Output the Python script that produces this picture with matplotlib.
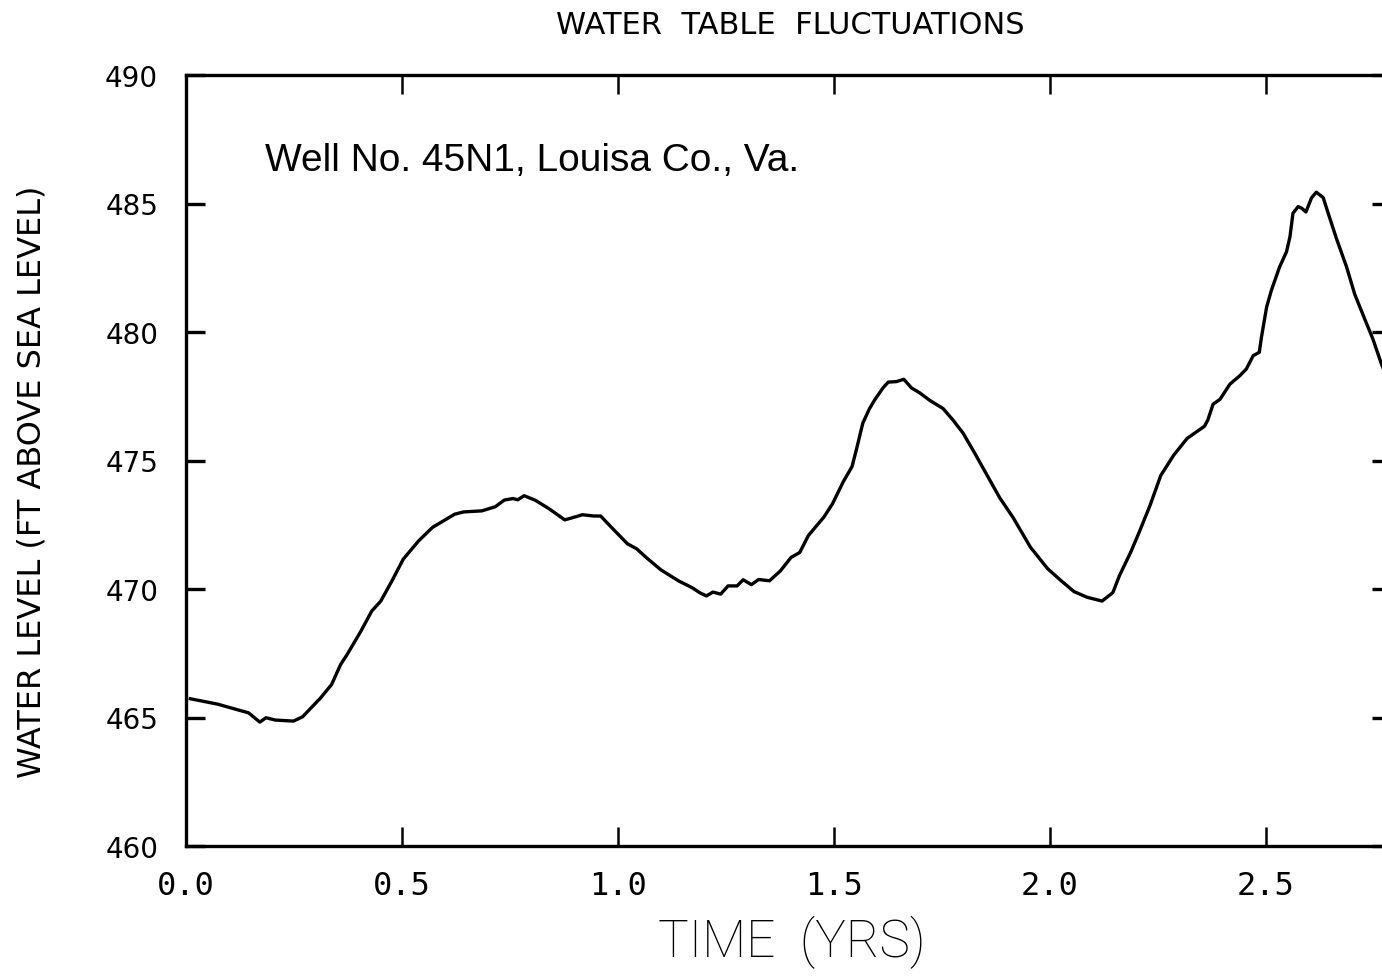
import matplotlib.pyplot as plt

# Hydrograph for well 45N1, Louisa County, Virginia
years = [0.010, 0.073, 0.145, 0.171, 0.185, 0.207, 0.249, 0.270, 0.311, 0.337,
         0.358, 0.373, 0.405, 0.430, 0.451, 0.477, 0.503, 0.539, 0.571, 0.622,
         0.643, 0.685, 0.716, 0.737, 0.757, 0.768, 0.783, 0.809, 0.840, 0.877,
         0.892, 0.918, 0.944, 0.960, 0.985, 1.022, 1.043, 1.068, 1.100, 1.141,
         1.172, 1.190, 1.205, 1.220, 1.238, 1.255, 1.276, 1.290, 1.309, 1.326,
         1.351, 1.376, 1.401, 1.421, 1.441, 1.477, 1.497, 1.522, 1.542, 1.552,
         1.567, 1.582, 1.595, 1.614, 1.626, 1.645, 1.662, 1.680, 1.699, 1.722,
         1.753, 1.776, 1.799, 1.824, 1.854, 1.884, 1.915, 1.955, 1.995, 2.025,
         2.056, 2.086, 2.121, 2.146, 2.161, 2.187, 2.207, 2.232, 2.257, 2.287,
         2.318, 2.358, 2.366, 2.378, 2.394, 2.417, 2.440, 2.455, 2.471, 2.485,
         2.490, 2.502, 2.513, 2.532, 2.548, 2.556, 2.563, 2.575, 2.583, 2.593,
         2.606, 2.617, 2.633, 2.644, 2.664, 2.687, 2.706, 2.729, 2.748, 2.769,
         2.780]
level_ft = [465.73, 465.52, 465.18, 464.82, 464.99, 464.90, 464.86, 465.03, 465.75, 466.28,
            467.06, 467.45, 468.36, 469.14, 469.53, 470.32, 471.16, 471.88, 472.40, 472.91,
            473.00, 473.04, 473.20, 473.46, 473.52, 473.47, 473.63, 473.45, 473.13, 472.69,
            472.76, 472.89, 472.84, 472.84, 472.40, 471.76, 471.57, 471.19, 470.74, 470.31,
            470.05, 469.85, 469.73, 469.88, 469.80, 470.12, 470.12, 470.36, 470.17, 470.37,
            470.32, 470.70, 471.23, 471.42, 472.08, 472.80, 473.32, 474.18, 474.76, 475.41,
            476.45, 477.00, 477.37, 477.83, 478.05, 478.07, 478.16, 477.82, 477.63, 477.34,
            477.02, 476.57, 476.07, 475.35, 474.45, 473.55, 472.78, 471.63, 470.79, 470.34,
            469.90, 469.68, 469.53, 469.86, 470.51, 471.42, 472.21, 473.25, 474.42, 475.21,
            475.86, 476.33, 476.58, 477.19, 477.38, 477.97, 478.30, 478.56, 479.08, 479.21,
            479.79, 480.97, 481.62, 482.53, 483.12, 483.70, 484.62, 484.88, 484.82, 484.67,
            485.22, 485.44, 485.23, 484.65, 483.62, 482.54, 481.47, 480.51, 479.73, 478.70,
            478.30]

x_ticks = [0.0, 0.5, 1.0, 1.5, 2.0, 2.5]
y_ticks = [460, 465, 470, 475, 480, 485, 490]

W, H = 1382, 978
fig = plt.figure(figsize=(W / 100, H / 100), dpi=100)
fig.patch.set_facecolor("white")

# axes run a little past the right edge of the sheet
ax = fig.add_axes([186 / W, (H - 847) / H, 1205 / W, 771 / H])
ax.plot(years, level_ft, color="black", lw=2.4)

ax.set_xlim(0, 2.79)
ax.set_ylim(460, 490)
ax.set_xticks(x_ticks)
ax.set_xticklabels([f"{t:.1f}" for t in x_ticks],
                   fontfamily="DejaVu Sans Mono", fontsize=23)
ax.set_yticks(y_ticks)
ax.set_yticklabels([str(t) for t in y_ticks], fontfamily="DejaVu Sans", fontsize=20)

ax.tick_params(direction="in", top=True, right=True, length=14, width=1.8)
ax.tick_params(axis="y", width=2.4)
ax.tick_params(axis="x", pad=17)
ax.tick_params(axis="y", pad=20)
for s in ax.spines.values():
    s.set_linewidth(2.4)

ax.text(0.183, 486.3, "Well No. 45N1, Louisa Co., Va.",
        fontfamily="Liberation Sans", fontsize=28, va="baseline")

fig.text(790 / W, 1 - 25 / H, "WATER  TABLE  FLUCTUATIONS",
         fontfamily="DejaVu Sans", fontsize=22, ha="center", va="center")
fig.text(792 / W, 1 - 942 / H, "TIME  (YRS)",
         fontfamily="Roboto", fontweight="light", fontsize=37,
         ha="center", va="center")
fig.text(32 / W, 1 - 482 / H, "WATER LEVEL (FT ABOVE SEA LEVEL)",
         fontfamily="DejaVu Sans", fontsize=23, rotation=90,
         ha="center", va="center")

fig.savefig("out.png", dpi=100)
